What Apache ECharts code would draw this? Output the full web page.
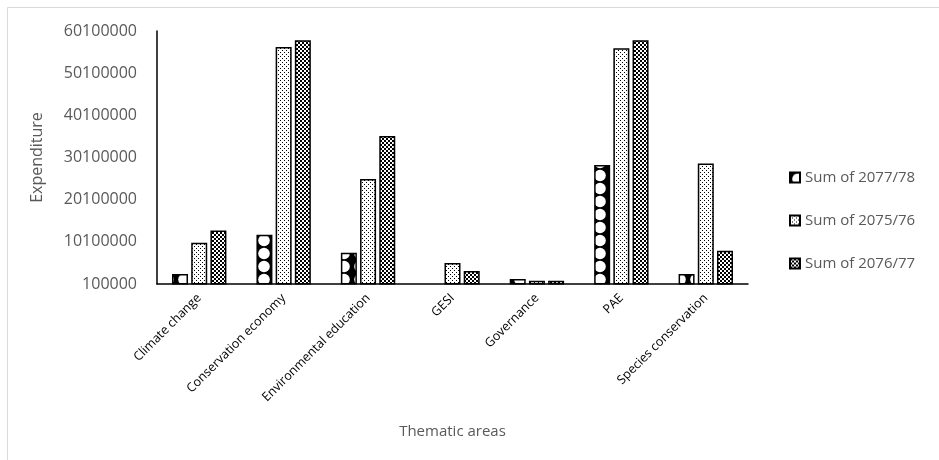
<!DOCTYPE html>
<html>
<head>
<meta charset="utf-8">
<script src="https://cdn.jsdelivr.net/npm/echarts@6/dist/echarts.min.js"></script>
<style>
html,body{margin:0;padding:0;background:#fff;}
#chart{width:939px;height:460px;}
</style>
</head>
<body>
<div id="chart"></div>
<script>
// ---- Data ----
const categories = ['Climate change','Conservation economy','Environmental education','GESI','Governance','PAE','Species conservation'];
const seriesNames = ['Sum of 2077/78','Sum of 2075/76','Sum of 2076/77'];
const values2077_78 = [2500000, 11800000, 7500000, null, 1300000, 28300000, 2500000];
const values2075_76 = [9900000, 56300000, 25000000, 5100000, 900000, 56000000, 28700000];
const values2076_77 = [12800000, 57900000, 35200000, 3200000, 900000, 57900000, 8000000];
const yTickLabels = [100000, 10100000, 20100000, 30100000, 40100000, 50100000, 60100000];

// ---- Patterns ----
function makeCanvas(w, h, draw) {
  const c = document.createElement('canvas');
  c.width = w; c.height = h;
  const ctx = c.getContext('2d');
  ctx.fillStyle = '#fff';
  ctx.fillRect(0, 0, w, h);
  ctx.fillStyle = '#000';
  draw(ctx, w, h);
  return c;
}
const spherePat = makeCanvas(16, 13, (ctx, w, h) => {
  ctx.fillRect(0, 0, w, h);
  ctx.fillStyle = '#fff';
  ctx.beginPath();
  ctx.arc(8, 6.5, 5.8, 0, Math.PI * 2);
  ctx.fill();
});
const dotPat = makeCanvas(4, 4, (ctx) => {
  ctx.fillRect(0, 0, 1, 1);
  ctx.fillRect(2, 2, 1, 1);
});
const checkPat = makeCanvas(4, 4, (ctx) => {
  ctx.fillRect(0, 0, 2, 2);
  ctx.fillRect(2, 2, 2, 2);
});
const patterns = [spherePat, dotPat, checkPat];
const seriesData = [values2077_78, values2075_76, values2076_77];

const chart = echarts.init(document.getElementById('chart'));
const option = {
  backgroundColor: '#fff',
  animation: false,
  graphic: [{
    type: 'rect',
    shape: { x: 7.5, y: 7.5, width: 1000, height: 1000 },
    style: { fill: 'none', stroke: '#d9d9d9', lineWidth: 1 },
    silent: true
  }],
  legend: {
    orient: 'vertical',
    left: 784,
    top: 165,
    itemGap: 28,
    itemWidth: 10,
    itemHeight: 10,
    icon: 'rect',
    data: seriesNames,
    textStyle: { color: '#595959', fontSize: 15, fontFamily: 'Open Sans' }
  },
  grid: { left: 157, right: 191, top: 31, bottom: 176, containLabel: false },
  xAxis: {
    type: 'category',
    data: categories,
    name: 'Thematic areas',
    nameLocation: 'middle',
    nameGap: 140,
    nameTextStyle: { color: '#595959', fontSize: 15, fontFamily: 'Open Sans' },
    axisLine: { lineStyle: { color: '#000', width: 1.5 } },
    axisTick: { show: false },
    axisLabel: {
      rotate: 45,
      interval: 0,
      margin: 12,
      color: '#000',
      fontSize: 12.5,
      fontFamily: 'Open Sans'
    }
  },
  yAxis: {
    type: 'value',
    min: 100000,
    max: 60100000,
    name: 'Expenditure',
    nameLocation: 'middle',
    nameGap: 112,
    nameTextStyle: { color: '#595959', fontSize: 16, fontFamily: 'Open Sans' },
    axisLine: { show: true, lineStyle: { color: '#000', width: 1.5 } },
    axisTick: { show: false },
    splitLine: { show: false },
    axisLabel: {
      customValues: yTickLabels,
      margin: 20,
      color: '#595959',
      fontSize: 16,
      fontFamily: 'Open Sans',
      formatter: (v) => String(v)
    }
  },
  series: seriesNames.map((name, i) => ({
    name: name,
    type: 'bar',
    data: seriesData[i],
    barWidth: 16,
    barGap: '20%',
    itemStyle: {
      color: { image: patterns[i], repeat: 'repeat' },
      borderColor: '#000',
      borderWidth: 1.5
    }
  }))
};
chart.setOption(option);
</script>
</body>
</html>
